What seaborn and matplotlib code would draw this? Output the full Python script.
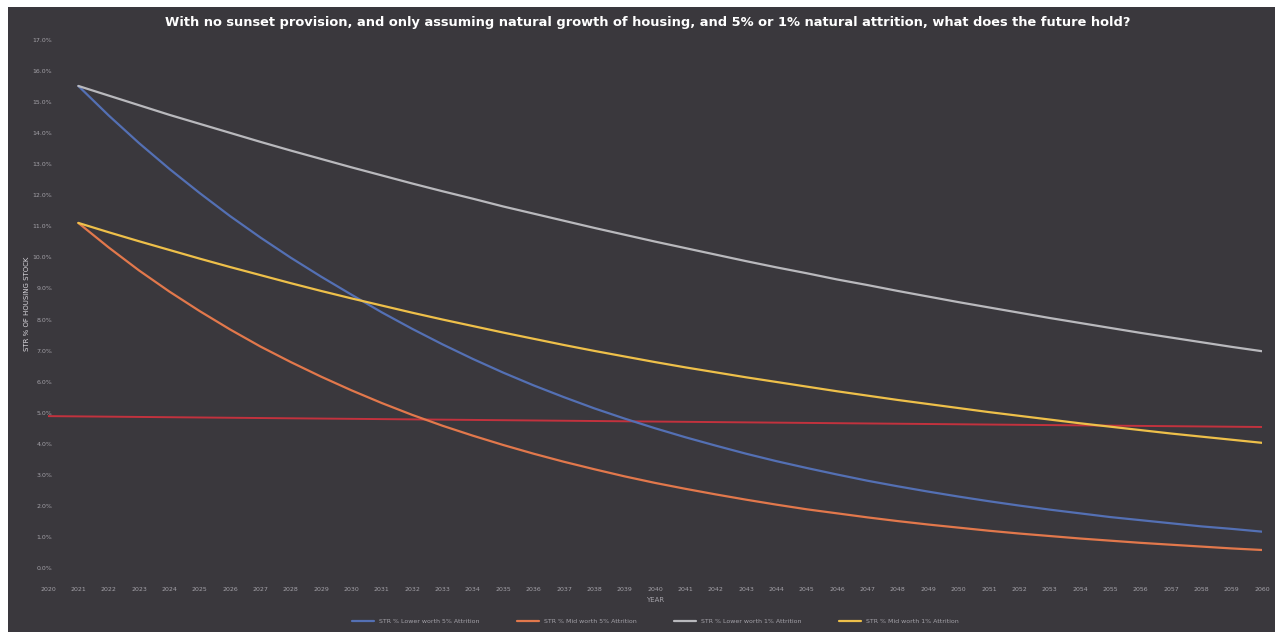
import matplotlib
matplotlib.use("Agg")
import matplotlib.pyplot as plt
import seaborn as sns
import pandas as pd
from matplotlib.patches import Rectangle

# Projection years and STR share of housing stock (%) for each scenario
years = list(range(2021, 2061))

str_lower_5 = [15.52, 14.57, 13.68, 12.85, 12.07, 11.33, 10.64, 9.99, 9.38, 8.80,
               8.23, 7.70, 7.20, 6.73, 6.29, 5.88, 5.50, 5.14, 4.81, 4.50,
               4.21, 3.94, 3.68, 3.44, 3.22, 3.01, 2.81, 2.63, 2.46, 2.30,
               2.15, 2.01, 1.88, 1.76, 1.64, 1.54, 1.44, 1.34, 1.26, 1.17]

str_mid_5 = [11.11, 10.32, 9.58, 8.90, 8.27, 7.68, 7.13, 6.63, 6.16, 5.72,
             5.31, 4.93, 4.58, 4.26, 3.96, 3.68, 3.42, 3.18, 2.95, 2.74,
             2.55, 2.37, 2.20, 2.04, 1.89, 1.76, 1.63, 1.51, 1.40, 1.30,
             1.20, 1.11, 1.03, 0.95, 0.88, 0.81, 0.75, 0.69, 0.63, 0.58]

str_lower_1 = [15.52, 15.21, 14.90, 14.59, 14.30, 14.01, 13.72, 13.44, 13.17, 12.90,
               12.64, 12.38, 12.13, 11.89, 11.64, 11.41, 11.18, 10.95, 10.73, 10.51,
               10.30, 10.09, 9.88, 9.68, 9.49, 9.29, 9.11, 8.92, 8.74, 8.56,
               8.39, 8.22, 8.05, 7.89, 7.73, 7.57, 7.42, 7.27, 7.12, 6.98]

str_mid_1 = [11.11, 10.81, 10.52, 10.24, 9.96, 9.69, 9.43, 9.17, 8.92, 8.68,
             8.45, 8.22, 8.00, 7.79, 7.58, 7.38, 7.18, 6.99, 6.81, 6.63,
             6.46, 6.30, 6.14, 5.99, 5.84, 5.69, 5.55, 5.41, 5.28, 5.15,
             5.02, 4.90, 4.78, 4.66, 4.55, 4.44, 4.33, 4.23, 4.13, 4.03]

series_names = ["STR % Lower worth 5% Attrition",
                "STR % Mid worth 5% Attrition",
                "STR % Lower worth 1% Attrition",
                "STR % Mid worth 1% Attrition"]
series_colors = ["#5470b4", "#e2784c", "#b9b9bd", "#eec04a"]

# 5% reference line across the whole period
ref_years = [2020, 2060]
ref_pct = [4.89, 4.54]

axis_years = list(range(2020, 2061))
y_ticks = list(range(0, 18))

frames = []
for name, vals in zip(series_names, [str_lower_5, str_mid_5, str_lower_1, str_mid_1]):
    frames.append(pd.DataFrame({"year": years, "pct": vals, "series": name}))
df = pd.concat(frames, ignore_index=True)
ref_df = pd.DataFrame({"year": ref_years, "pct": ref_pct})

sns.set_theme(style="dark")
plt.rcParams["font.family"] = ["DejaVu Sans"]

bg = "#3a383d"
txt = "#a3a1a8"

fig = plt.figure(figsize=(12.75, 6.37), dpi=100)
fig.patch.set_facecolor("white")
fig.add_artist(Rectangle((8 / 1275, 5 / 637), 1.0, 625 / 637,
                         transform=fig.transFigure, facecolor=bg,
                         edgecolor="none", zorder=0))

ax = fig.add_axes([48 / 1275, (637 - 568) / 637, 1214 / 1275, 528 / 637])
ax.set_facecolor("none")
for s in ax.spines.values():
    s.set_visible(False)

sns.lineplot(data=ref_df, x="year", y="pct", color="#c2323e", linewidth=1.4,
             ax=ax, legend=False)
sns.lineplot(data=df, x="year", y="pct", hue="series", hue_order=series_names,
             palette=series_colors, linewidth=1.6, ax=ax)

ax.set_xlim(2020, 2060)
ax.set_ylim(0, 17)
ax.set_xticks(axis_years)
ax.set_xticklabels([str(y) for y in axis_years], fontsize=4.5, color=txt)
ax.set_yticks(y_ticks)
ax.set_yticklabels([f"{v:.1f}%" for v in y_ticks], fontsize=4.5, color=txt)
ax.tick_params(axis="x", length=0, pad=14)
ax.tick_params(axis="y", length=0, pad=-3)
ax.grid(False)

ax.set_xlabel("YEAR", fontsize=5, color=txt, labelpad=3)
ax.set_ylabel("STR % OF HOUSING STOCK", fontsize=5, color="#d8d6dc", labelpad=2)

leg = ax.legend(loc="upper center", bbox_to_anchor=(0.5, -0.085), ncol=4,
                frameon=False, fontsize=4.5, handlelength=3.5, columnspacing=6)
for t in leg.get_texts():
    t.set_color(txt)

fig.text(0.508, 0.965,
         "With no sunset provision, and only assuming natural growth of housing, "
         "and 5% or 1% natural attrition, what does the future hold?",
         ha="center", va="center", fontsize=9.4, color="white",
         fontweight="semibold")

fig.savefig("out.png", dpi=100, facecolor=fig.get_facecolor())
